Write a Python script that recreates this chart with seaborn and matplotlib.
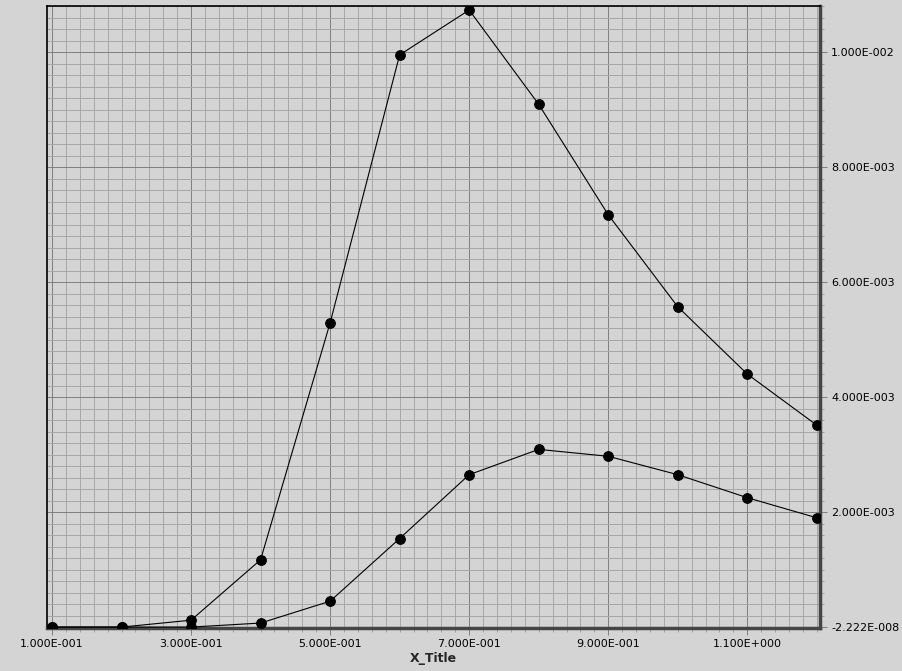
import numpy as np
import pandas as pd
import seaborn as sns
import matplotlib
matplotlib.use("Agg")
import matplotlib.pyplot as plt
from matplotlib.ticker import FixedLocator, MultipleLocator, FuncFormatter

# Data
x_vals = [0.1, 0.2, 0.3, 0.4, 0.5, 0.6, 0.7, 0.8, 0.9, 1.0, 1.1, 1.2]
series_a = [0.0, 0.0, 1.2e-4, 1.17e-3, 5.29e-3, 9.95e-3, 1.073e-2,
            9.09e-3, 7.17e-3, 5.57e-3, 4.40e-3, 3.51e-3]
series_b = [0.0, 0.0, 0.0, 7e-5, 4.5e-4, 1.54e-3, 2.65e-3,
            3.09e-3, 2.97e-3, 2.65e-3, 2.25e-3, 1.90e-3]
x_ticks = [0.1, 0.3, 0.5, 0.7, 0.9, 1.1]
y_min = -2.222e-8
y_ticks = [y_min, 2e-3, 4e-3, 6e-3, 8e-3, 1e-2]
x_title = "X_Title"

df = pd.DataFrame({
    "x": x_vals * 2,
    "y": series_a + series_b,
    "series": ["a"] * len(x_vals) + ["b"] * len(x_vals),
})

bg = "#d4d4d4"
sns.set_style("ticks")
plt.rcParams["font.family"] = ["DejaVu Sans"]
plt.rcParams["font.size"] = 8

fig = plt.figure(figsize=(9.02, 6.71), dpi=100, facecolor=bg)
ax = fig.add_axes([47 / 902, 1 - 628 / 671, (820 - 47) / 902, (628 - 6) / 671])
ax.set_facecolor(bg)

sns.lineplot(data=df, x="x", y="y", hue="series", palette=["black", "black"],
             marker="o", markersize=7, markeredgecolor="black",
             linewidth=0.8, legend=False, ax=ax, zorder=5)

ax.set_xlim(0.0928, 1.2046)
ax.set_ylim(-1.6e-5, 0.0108)


def sci3(v, pos=None):
    if v == 0:
        return "0.000E+000"
    e = int(np.floor(np.log10(abs(v))))
    m = v / 10 ** e
    if round(abs(m), 3) >= 10:
        m /= 10
        e += 1
    sign = "-" if e < 0 else "+"
    return f"{m:.3f}E{sign}{abs(e):03d}"


ax.xaxis.set_major_locator(FixedLocator(x_ticks))
ax.xaxis.set_minor_locator(MultipleLocator(0.02))
ax.yaxis.set_major_locator(FixedLocator(y_ticks))
ax.yaxis.set_minor_locator(MultipleLocator(2e-4))
ax.xaxis.set_major_formatter(FuncFormatter(sci3))
ax.yaxis.set_major_formatter(FuncFormatter(sci3))
ax.yaxis.tick_right()

# thin 1px grid, minor lighter than major
ax.grid(which="minor", color="#a8a8a8", linewidth=0.72, zorder=0)
ax.grid(which="major", color="#808080", linewidth=0.72, zorder=1)
ax.axhline(0.0, color="#808080", linewidth=0.72, zorder=1)
ax.set_axisbelow(True)

ax.tick_params(which="major", length=5, width=0.72, color="#808080",
               labelsize=8, labelcolor="black", pad=3)
ax.tick_params(which="minor", length=3, width=0.72, color="#a0a0a0")
ax.tick_params(axis="y", which="both", left=False, right=True)

for side in ["left", "top"]:
    ax.spines[side].set_color("black")
    ax.spines[side].set_linewidth(1.2)
for side in ["right", "bottom"]:
    ax.spines[side].set_color("#454545")
    ax.spines[side].set_linewidth(2.5)

ax.set_xlabel(x_title, fontsize=9, fontweight="bold", labelpad=2)
ax.set_ylabel("")

fig.savefig("out.png", dpi=100, facecolor=bg)
